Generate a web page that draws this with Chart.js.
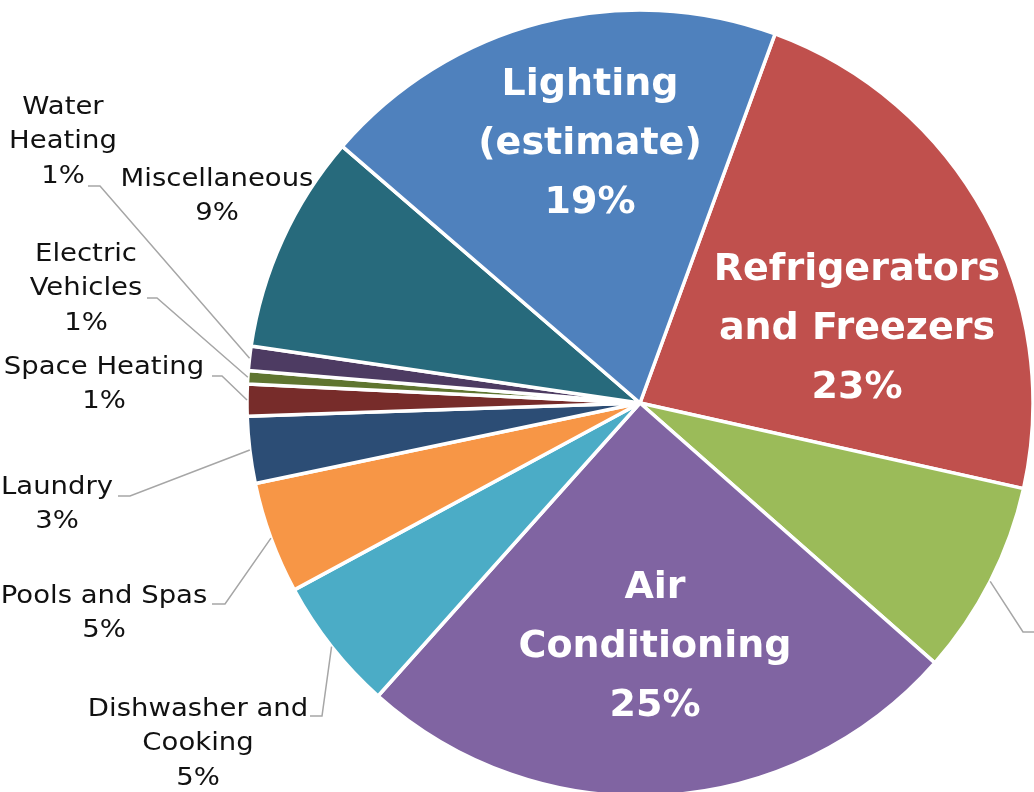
<!DOCTYPE html>
<html>
<head>
<meta charset="utf-8">
<script src="https://cdn.jsdelivr.net/npm/chart.js@4/dist/chart.umd.min.js"></script>
<style>
  html, body { margin: 0; padding: 0; background: #fff; overflow: hidden; }
  #wrap { width: 1034px; height: 806px; position: relative; }
</style>
</head>
<body>
<div id="wrap"><canvas id="pieChart"></canvas></div>
<script>
// slices, clockwise starting from the Lighting / Refrigerators boundary
const categories = ['Refrigerators and Freezers', 'Televisions and Electronics', 'Air Conditioning',
  'Dishwasher and Cooking', 'Pools and Spas', 'Laundry', 'Space Heating', 'Electric Vehicles',
  'Water Heating', 'Miscellaneous', 'Lighting (estimate)'];
const shares = [22.9, 8.0, 25.1, 5.5, 4.6, 2.75, 1.3, 0.55, 1.0, 9.0, 19.25];
const percentLabels = ['23%', '8%', '25%', '5%', '5%', '3%', '1%', '1%', '1%', '9%', '19%'];
const labelLines = [
  ['Refrigerators', 'and Freezers'], null, ['Air', 'Conditioning'],
  ['Dishwasher and', 'Cooking'], ['Pools and Spas'], ['Laundry'], ['Space Heating'],
  ['Electric', 'Vehicles'], ['Water', 'Heating'], ['Miscellaneous'], ['Lighting', '(estimate)']
];
const sliceColors = ['#C0504D', '#9BBB59', '#8064A2', '#4BACC6', '#F79646', '#2C4D75',
  '#772C2A', '#5F7530', '#4D3B62', '#276A7C', '#4F81BD'];

// label placement (text centre x, first line y, optional leader elbow [x, y, endX])
const labelLayout = [
  { x: 857, y: 270, inside: true },
  { elbow: [1023, 632, 1040] },
  { x: 655, y: 588, inside: true },
  { x: 198, y: 709, elbow: [322, 716, 310] },
  { x: 104, y: 596, elbow: [225, 604, 212] },
  { x: 57, y: 487, elbow: [130, 496, 118] },
  { x: 104, y: 367, elbow: [222, 376, 212] },
  { x: 86, y: 254, elbow: [157, 298, 147] },
  { x: 63, y: 107, elbow: [100, 186, 88] },
  { x: 217, y: 179 },
  { x: 590, y: 85, inside: true }
];

const sliceLabels = {
  id: 'sliceLabels',
  afterDatasetsDraw(chart) {
    const ctx = chart.ctx;
    const meta = chart.getDatasetMeta(0);
    meta.data.forEach((arc, i) => {
      const L = labelLayout[i];
      const p = arc.getProps(['x', 'y', 'startAngle', 'endAngle', 'outerRadius'], true);
      ctx.save();
      if (L.elbow) {
        const mid = (p.startAngle + p.endAngle) / 2;
        const sx = p.x + Math.cos(mid) * p.outerRadius;
        const sy = p.y + Math.sin(mid) * p.outerRadius;
        ctx.strokeStyle = '#A6A6A6';
        ctx.lineWidth = 1.5;
        ctx.beginPath();
        ctx.moveTo(sx, sy);
        ctx.lineTo(L.elbow[0], L.elbow[1]);
        ctx.lineTo(L.elbow[2], L.elbow[1]);
        ctx.stroke();
      }
      if (labelLines[i]) {
        const lines = labelLines[i].concat([percentLabels[i]]);
        ctx.textAlign = 'center';
        ctx.textBaseline = 'middle';
        let sx = 1;
        if (L.inside) {
          ctx.font = 'bold 38px "DejaVu Sans"';
          ctx.fillStyle = '#ffffff';
        } else {
          ctx.font = '25px "DejaVu Sans"';
          ctx.fillStyle = '#111111';
          sx = 1.1; // widen to mimic the geometric face of the original
        }
        const lh = L.inside ? 59 : 34.5;
        ctx.translate(L.x, L.y);
        ctx.scale(sx, 1);
        lines.forEach((t, k) => ctx.fillText(t, 0, k * lh));
      }
      ctx.restore();
    });
  }
};

new Chart(document.getElementById('pieChart'), {
  type: 'pie',
  data: {
    labels: categories,
    datasets: [{
      data: shares,
      backgroundColor: sliceColors,
      borderColor: '#ffffff',
      borderWidth: 3.5
    }]
  },
  options: {
    responsive: true,
    maintainAspectRatio: false,
    animation: false,
    rotation: 20.1,
    radius: 393,
    layout: { padding: { left: 247, right: 1, top: 10, bottom: 10 } },
    plugins: {
      legend: { display: false },
      tooltip: { enabled: false }
    }
  },
  plugins: [sliceLabels]
});
</script>
</body>
</html>
